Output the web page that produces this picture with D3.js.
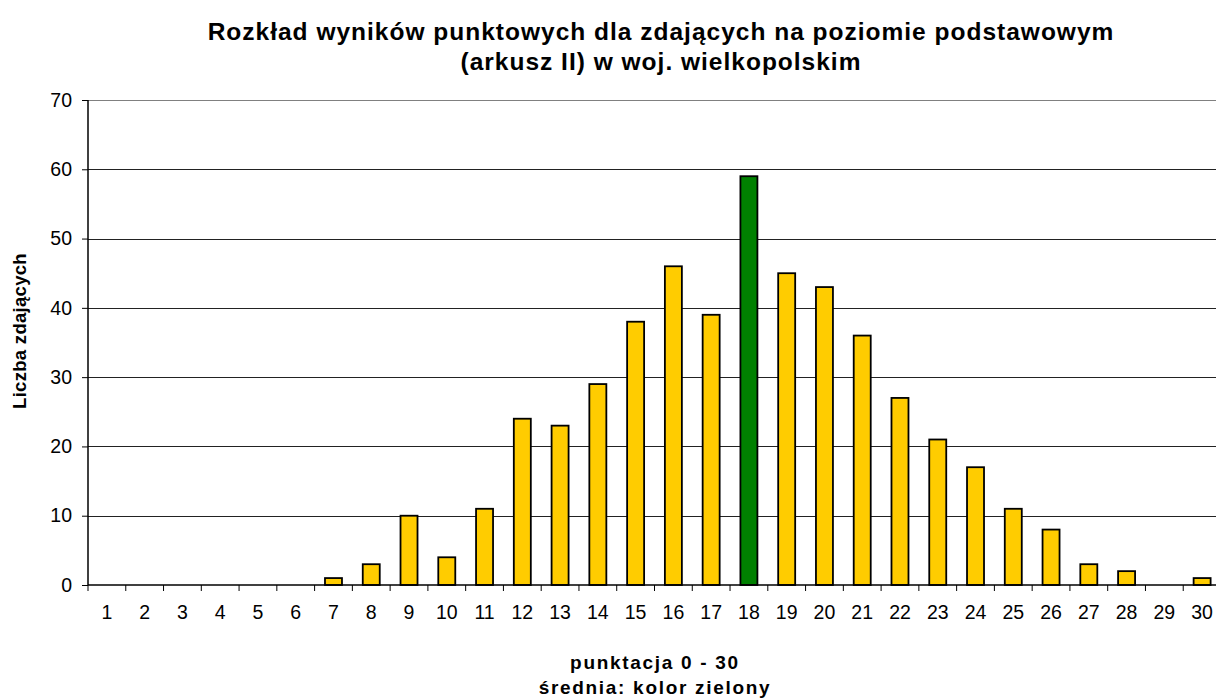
<!DOCTYPE html>
<html>
<head>
<meta charset="utf-8">
<script src="https://cdn.jsdelivr.net/npm/d3@7"></script>
<style>
  body { margin: 0; background: #fff; }
  svg { display: block; font-family: "Liberation Sans", Arial, sans-serif; }
</style>
</head>
<body>
<div class="chart"></div>
<script>
const categories = d3.range(1, 31).map(String);
const counts = [0, 0, 0, 0, 0, 0, 1, 3, 10, 4, 11, 24, 23, 29, 38, 46, 39, 59, 45, 43, 36, 27, 21, 17, 11, 8, 3, 2, 0, 1];
const meanCategory = "18";
const yTicks = [0, 10, 20, 30, 40, 50, 60, 70];
const titleLines = ["Rozkład wyników punktowych dla zdających na poziomie podstawowym", "(arkusz II) w woj. wielkopolskim"];
const xTitleLines = ["punktacja 0 - 30", "średnia: kolor zielony"];
const yTitle = "Liczba zdających";

const width = 1216, height = 700;
const margin = {top: 100, right: -5, bottom: 115, left: 88};

const data = categories.map((c, i) => ({cat: c, value: counts[i]}));

const svg = d3.select(".chart").append("svg")
    .attr("width", width)
    .attr("height", height);

const x = d3.scaleBand()
    .domain(categories)
    .range([margin.left, width - margin.right])
    .paddingInner(0.55)
    .paddingOuter(0.275);

const y = d3.scaleLinear()
    .domain([0, 70])
    .range([height - margin.bottom, margin.top]);

// gridlines
svg.append("g")
    .selectAll("line")
    .data(yTicks.slice(1))
    .join("line")
    .attr("x1", margin.left)
    .attr("x2", width - margin.right)
    .attr("y1", d => Math.round(y(d)) + 0.5)
    .attr("y2", d => Math.round(y(d)) + 0.5)
    .attr("stroke", d => d === 70 ? "#808080" : "#222")
    .attr("stroke-width", 1);

// bars
svg.append("g")
    .selectAll("rect")
    .data(data.filter(d => d.value > 0))
    .join("rect")
    .attr("x", d => x(d.cat))
    .attr("y", d => y(d.value))
    .attr("width", x.bandwidth())
    .attr("height", d => y(0) - y(d.value))
    .attr("fill", d => d.cat === meanCategory ? "#008000" : "#FFCC00")
    .attr("stroke", "#000")
    .attr("stroke-width", 1.8);

// y axis
const yAxis = svg.append("g")
    .attr("transform", `translate(${margin.left},0)`)
    .call(d3.axisLeft(y).tickValues(yTicks).tickSize(6).tickPadding(10));
yAxis.select(".domain").attr("stroke", "#000").attr("stroke-width", 1.5).attr("d", `M0,${y(70)}V${y(0)}`);
yAxis.selectAll(".tick line").attr("stroke", "#000");
yAxis.selectAll(".tick text")
    .attr("font-size", 19.5)
    .attr("fill", "#000")
    .attr("font-family", "Liberation Sans, Arial, sans-serif");

// x axis: ticks between categories
const xAxisG = svg.append("g")
    .attr("transform", `translate(0,${y(0)})`);
xAxisG.append("line")
    .attr("x1", margin.left)
    .attr("x2", width - margin.right)
    .attr("stroke", "#000")
    .attr("stroke-width", 1.5);
const step = x.step();
xAxisG.selectAll(".sep")
    .data(categories)
    .join("line")
    .attr("class", "sep")
    .attr("x1", d => x(d) + x.bandwidth() / 2 - step / 2)
    .attr("x2", d => x(d) + x.bandwidth() / 2 - step / 2)
    .attr("y1", 0)
    .attr("y2", 6)
    .attr("stroke", "#000")
    .attr("stroke-width", 1);
xAxisG.selectAll(".lbl")
    .data(categories)
    .join("text")
    .attr("class", "lbl")
    .attr("x", d => x(d) + x.bandwidth() / 2)
    .attr("y", 34)
    .attr("text-anchor", "middle")
    .attr("font-size", 19.5)
    .text(d => d);

// title
svg.append("g")
    .selectAll("text")
    .data(titleLines)
    .join("text")
    .attr("x", 661)
    .attr("y", (d, i) => 40 + i * 30)
    .attr("text-anchor", "middle")
    .attr("font-size", 24.5)
    .attr("font-weight", "bold")
    .attr("letter-spacing", 1)
    .text(d => d);

// x title
svg.append("g")
    .selectAll("text")
    .data(xTitleLines)
    .join("text")
    .attr("x", 655)
    .attr("y", (d, i) => 669 + i * 25)
    .attr("text-anchor", "middle")
    .attr("font-size", 19)
    .attr("font-weight", "bold")
    .attr("letter-spacing", 1.7)
    .text(d => d);

// y title
svg.append("text")
    .attr("transform", `translate(26,331) rotate(-90)`)
    .attr("text-anchor", "middle")
    .attr("font-size", 18.5)
    .attr("font-weight", "bold")
    .attr("letter-spacing", 0.3)
    .text(yTitle);
</script>
</body>
</html>
